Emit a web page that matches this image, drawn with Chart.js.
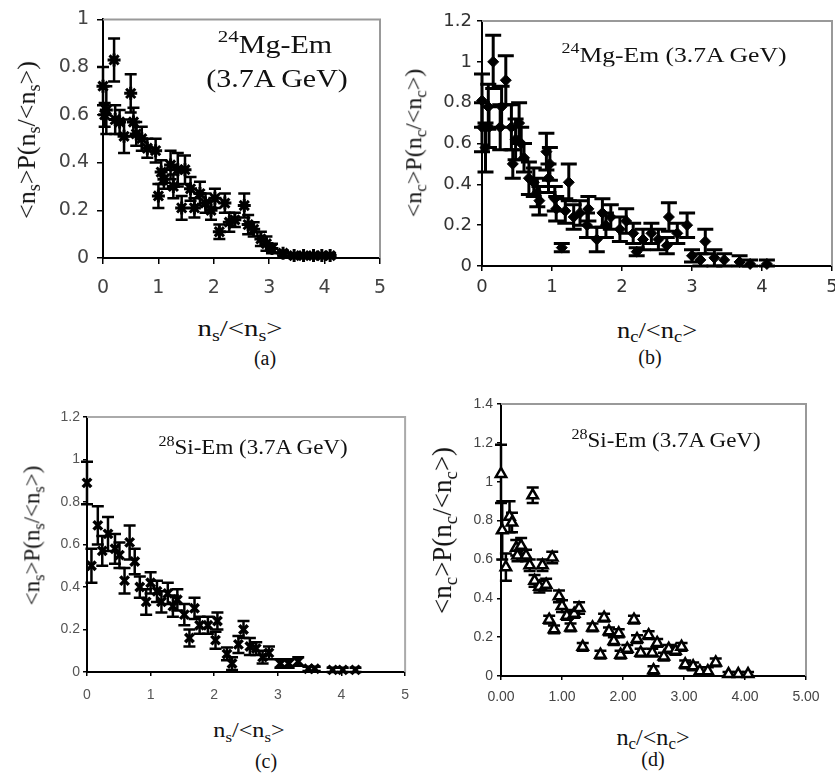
<!DOCTYPE html>
<html>
<head>
<meta charset="utf-8">
<script src="https://cdn.jsdelivr.net/npm/chart.js@4"></script>
<style>
body { margin:0; background:#fff; width:835px; height:773px; overflow:hidden; position:relative; font-family:"Liberation Serif", "Times New Roman", serif; color:#111; }
canvas { position:absolute; }
.t { position:absolute; white-space:nowrap; transform:translate(-50%,-50%); line-height:1; }
.yt { position:absolute; white-space:nowrap; line-height:1; }
sub { font-size:70%; vertical-align:-0.3em; line-height:0; }
sup { font-size:70%; vertical-align:0.6em; line-height:0; }
</style>
</head>
<body>
<canvas id="chartA" width="410" height="300" style="left:0;top:0"></canvas>
<canvas id="chartB" width="440" height="300" style="left:410px;top:0"></canvas>
<canvas id="chartC" width="420" height="320" style="left:0;top:390px"></canvas>
<canvas id="chartD" width="415" height="320" style="left:420px;top:390px"></canvas>

<div class="t" style="left:275px;top:44px;font-size:25px;transform:translate(-50%,-50%) scaleX(1.2)"><sup>24</sup>Mg-Em</div>
<div class="t" style="left:277px;top:78px;font-size:25px;transform:translate(-50%,-50%) scaleX(1.2)">(3.7A GeV)</div>
<div class="t" style="left:674px;top:55px;font-size:21px;transform:translate(-50%,-50%) scaleX(1.22)"><sup>24</sup>Mg-Em (3.7A GeV)</div>
<div class="t" style="left:253px;top:447px;font-size:20px;transform:translate(-50%,-50%) scaleX(1.15)"><sup>28</sup>Si-Em (3.7A GeV)</div>
<div class="t" style="left:666px;top:440px;font-size:20px;transform:translate(-50%,-50%) scaleX(1.15)"><sup>28</sup>Si-Em (3.7A GeV)</div>

<div class="t" style="left:240px;top:328px;font-size:24px;transform:translate(-50%,-50%) scaleX(1.2)">n<sub>s</sub>/&lt;n<sub>s</sub>&gt;</div>
<div class="t" style="left:657px;top:330px;font-size:23px;transform:translate(-50%,-50%) scaleX(1.15)">n<sub>c</sub>/&lt;n<sub>c</sub>&gt;</div>
<div class="t" style="left:249px;top:730px;font-size:22px;transform:translate(-50%,-50%) scaleX(1.1)">n<sub>s</sub>/&lt;n<sub>s</sub>&gt;</div>
<div class="t" style="left:653px;top:737px;font-size:23px;transform:translate(-50%,-50%) scaleX(1.05)">n<sub>c</sub>/&lt;n<sub>c</sub>&gt;</div>

<div class="yt" id="ytA" style="font-size:26px">&lt;n<sub>s</sub>&gt;P(n<sub>s</sub>/&lt;n<sub>s</sub>&gt;)</div>
<div class="yt" id="ytB" style="font-size:24px">&lt;n<sub>c</sub>&gt;P(n<sub>c</sub>/&lt;n<sub>c</sub>&gt;)</div>
<div class="yt" id="ytC" style="font-size:23px">&lt;n<sub>s</sub>&gt;P(n<sub>s</sub>/&lt;n<sub>s</sub>&gt;)</div>
<div class="yt" id="ytD" style="font-size:27px">&lt;n<sub>c</sub>&gt;P(n<sub>c</sub>/&lt;n<sub>c</sub>&gt;)</div>

<div class="t" style="left:265px;top:358px;font-size:20px">(a)</div>
<div class="t" style="left:650px;top:357px;font-size:20px">(b)</div>
<div class="t" style="left:266px;top:761px;font-size:20px">(c)</div>
<div class="t" style="left:653px;top:759px;font-size:20px">(d)</div>

<script>
// (a) 24Mg-Em, shower particles
const aX = [0.00, 0.03, 0.06, 0.20, 0.22, 0.30, 0.38, 0.50, 0.55, 0.60, 0.70, 0.80, 0.95, 1.00, 1.05, 1.10, 1.22, 1.27, 1.35, 1.42, 1.48, 1.58, 1.65, 1.75, 1.85, 1.95, 2.02, 2.10, 2.20, 2.28, 2.38, 2.55, 2.62, 2.72, 2.85, 2.95, 3.05, 3.25, 3.45, 3.62, 3.80, 3.95, 4.10];
const aY = [0.72, 0.60, 0.62, 0.83, 0.58, 0.57, 0.51, 0.69, 0.57, 0.52, 0.50, 0.46, 0.45, 0.26, 0.36, 0.33, 0.39, 0.30, 0.37, 0.21, 0.37, 0.29, 0.21, 0.27, 0.23, 0.20, 0.25, 0.11, 0.23, 0.15, 0.16, 0.22, 0.14, 0.12, 0.08, 0.06, 0.04, 0.02, 0.01, 0.01, 0.01, 0.01, 0.01];
const aErr = [0.08, 0.05, 0.10, 0.09, 0.06, 0.05, 0.07, 0.08, 0.06, 0.05, 0.05, 0.04, 0.05, 0.05, 0.05, 0.04, 0.06, 0.05, 0.07, 0.05, 0.06, 0.05, 0.04, 0.05, 0.04, 0.04, 0.04, 0.03, 0.04, 0.04, 0.03, 0.05, 0.04, 0.03, 0.03, 0.03, 0.02, 0.01, 0.01, 0.01, 0.01, 0.01, 0.01];

// (b) 24Mg-Em, compound particles
const bX = [0.00, 0.00, 0.05, 0.09, 0.10, 0.16, 0.26, 0.28, 0.34, 0.42, 0.44, 0.48, 0.53, 0.56, 0.60, 0.67, 0.74, 0.79, 0.82, 0.92, 0.95, 0.97, 1.04, 1.06, 1.14, 1.19, 1.24, 1.31, 1.40, 1.50, 1.52, 1.64, 1.72, 1.77, 1.84, 1.97, 2.06, 2.16, 2.21, 2.30, 2.42, 2.52, 2.64, 2.67, 2.79, 2.93, 3.00, 3.12, 3.19, 3.32, 3.46, 3.68, 3.83, 4.07];
const bY = [0.81, 0.68, 0.58, 0.78, 0.68, 1.00, 0.68, 0.78, 0.91, 0.68, 0.50, 0.62, 0.70, 0.60, 0.53, 0.43, 0.41, 0.36, 0.32, 0.56, 0.43, 0.50, 0.33, 0.28, 0.09, 0.27, 0.41, 0.24, 0.26, 0.20, 0.28, 0.13, 0.26, 0.20, 0.24, 0.18, 0.22, 0.16, 0.07, 0.13, 0.16, 0.13, 0.10, 0.24, 0.16, 0.20, 0.05, 0.03, 0.12, 0.04, 0.03, 0.02, 0.01, 0.01];
const bErr = [0.13, 0.12, 0.12, 0.11, 0.10, 0.13, 0.11, 0.10, 0.12, 0.11, 0.07, 0.10, 0.10, 0.08, 0.07, 0.08, 0.07, 0.07, 0.07, 0.09, 0.07, 0.08, 0.06, 0.06, 0.02, 0.06, 0.09, 0.06, 0.06, 0.06, 0.06, 0.06, 0.07, 0.06, 0.06, 0.06, 0.06, 0.05, 0.02, 0.05, 0.05, 0.05, 0.04, 0.07, 0.05, 0.06, 0.03, 0.03, 0.06, 0.04, 0.03, 0.03, 0.02, 0.02];

// (c) 28Si-Em, shower particles
const cX = [0.00, 0.07, 0.17, 0.24, 0.33, 0.44, 0.51, 0.59, 0.67, 0.75, 0.83, 0.93, 1.00, 1.10, 1.17, 1.27, 1.35, 1.42, 1.53, 1.61, 1.69, 1.77, 1.90, 2.02, 2.05, 2.20, 2.28, 2.38, 2.46, 2.56, 2.66, 2.76, 2.86, 3.04, 3.17, 3.32, 3.48, 3.58, 3.86, 4.02, 4.22];
const cY = [0.89, 0.50, 0.69, 0.57, 0.65, 0.58, 0.55, 0.43, 0.61, 0.52, 0.40, 0.33, 0.42, 0.38, 0.33, 0.37, 0.31, 0.34, 0.27, 0.16, 0.30, 0.22, 0.22, 0.15, 0.24, 0.085, 0.04, 0.13, 0.20, 0.12, 0.11, 0.07, 0.09, 0.04, 0.04, 0.05, 0.015, 0.015, 0.01, 0.01, 0.01];
const cErr = [0.10, 0.08, 0.09, 0.07, 0.08, 0.07, 0.06, 0.06, 0.08, 0.06, 0.05, 0.06, 0.05, 0.05, 0.05, 0.05, 0.05, 0.05, 0.05, 0.04, 0.05, 0.04, 0.04, 0.04, 0.04, 0.03, 0.03, 0.04, 0.04, 0.04, 0.03, 0.03, 0.03, 0.02, 0.02, 0.02, 0.01, 0.01, 0.01, 0.01, 0.01];

// (d) 28Si-Em, compound particles
const dX = [0.00, 0.02, 0.08, 0.14, 0.18, 0.25, 0.27, 0.33, 0.41, 0.47, 0.52, 0.55, 0.63, 0.68, 0.74, 0.79, 0.84, 0.87, 0.95, 1.00, 1.08, 1.14, 1.20, 1.28, 1.34, 1.50, 1.63, 1.69, 1.77, 1.85, 1.93, 1.96, 2.07, 2.18, 2.23, 2.29, 2.42, 2.48, 2.50, 2.56, 2.67, 2.75, 2.86, 2.96, 3.02, 3.15, 3.26, 3.39, 3.52, 3.73, 3.89, 4.05];
const dY = [1.04, 0.75, 0.56, 0.82, 0.79, 0.66, 0.62, 0.67, 0.62, 0.57, 0.93, 0.49, 0.46, 0.57, 0.47, 0.29, 0.61, 0.24, 0.41, 0.36, 0.31, 0.25, 0.32, 0.35, 0.15, 0.25, 0.11, 0.30, 0.23, 0.18, 0.22, 0.11, 0.14, 0.29, 0.19, 0.12, 0.21, 0.12, 0.03, 0.17, 0.10, 0.14, 0.13, 0.15, 0.06, 0.05, 0.025, 0.025, 0.07, 0.01, 0.01, 0.01];
const dErr = [0.15, 0.15, 0.07, 0.08, 0.05, 0.04, 0.03, 0.04, 0.03, 0.03, 0.04, 0.03, 0.03, 0.03, 0.03, 0.02, 0.03, 0.02, 0.03, 0.03, 0.02, 0.02, 0.02, 0.03, 0.02, 0.02, 0.02, 0.02, 0.02, 0.02, 0.02, 0.02, 0.02, 0.02, 0.02, 0.02, 0.02, 0.02, 0.02, 0.02, 0.02, 0.02, 0.02, 0.02, 0.02, 0.02, 0.02, 0.02, 0.02, 0.01, 0.01, 0.01];

const xTicks = [0, 1, 2, 3, 4, 5];

// vertical error bars, drawn under the markers
const errorBars = {
    id: 'errorBars',
    beforeDatasetsDraw(chart, args, opts) {
        const ctx = chart.ctx;
        const xs = chart.scales.x, ys = chart.scales.y;
        ctx.save();
        ctx.strokeStyle = '#000';
        ctx.lineWidth = opts.width;
        chart.data.datasets.forEach(ds => {
            ds.data.forEach((p, i) => {
                const e = ds.errors[i];
                if (!e) return;
                const px = xs.getPixelForValue(p.x);
                const top = ys.getPixelForValue(p.y + e);
                const bot = ys.getPixelForValue(Math.max(p.y - e, 0));
                ctx.beginPath();
                ctx.moveTo(px, top); ctx.lineTo(px, bot);
                ctx.moveTo(px - opts.cap, top); ctx.lineTo(px + opts.cap, top);
                ctx.moveTo(px - opts.cap, bot); ctx.lineTo(px + opts.cap, bot);
                ctx.stroke();
            });
        });
        ctx.restore();
    }
};

// gray top / right frame of the plot area
const frame = {
    id: 'frame',
    afterDraw(chart, args, opts) {
        const a = chart.chartArea, ctx = chart.ctx;
        ctx.save();
        ctx.strokeStyle = opts.color;
        ctx.lineWidth = 2;
        ctx.beginPath();
        ctx.moveTo(a.left, a.top);
        ctx.lineTo(a.right, a.top);
        ctx.lineTo(a.right, a.bottom);
        ctx.stroke();
        ctx.restore();
    }
};

function makePanel(id, p) {
    const pts = p.xs.map((x, i) => ({ x: x, y: p.ys[i] }));
    return new Chart(document.getElementById(id), {
        type: 'scatter',
        data: {
            datasets: [{
                data: pts,
                errors: p.errs,
                pointStyle: p.style,
                pointRadius: p.radius,
                borderWidth: p.border,
                borderColor: '#000',
                backgroundColor: p.fill,
                clip: false
            }]
        },
        options: {
            responsive: false,
            animation: false,
            events: [],
            layout: { padding: { left: 0, top: p.top, right: p.right, bottom: 0 } },
            plugins: {
                legend: { display: false },
                tooltip: { enabled: false },
                errorBars: { cap: p.cap, width: p.barWidth },
                frame: { color: p.frameColor }
            },
            scales: {
                x: {
                    type: 'linear',
                    min: 0, max: 5,
                    afterFit: s => { s.height = p.xHeight; },
                    afterBuildTicks: s => { s.ticks = xTicks.map(v => ({ value: v })); },
                    ticks: {
                        padding: p.xPad,
                        color: p.tickColor,
                        font: { family: p.font, size: p.fontSize },
                        callback: v => p.xFmt ? v.toFixed(2) : String(v)
                    },
                    grid: { drawOnChartArea: false, drawTicks: true, tickLength: p.tick, color: '#000', lineWidth: 1.5 },
                    border: { color: '#000', width: 2 }
                },
                y: {
                    type: 'linear',
                    min: 0, max: p.yMax,
                    afterFit: s => { s.width = p.yWidth; },
                    afterBuildTicks: s => { s.ticks = p.yTicks.map(v => ({ value: v })); },
                    ticks: {
                        padding: p.yPad,
                        color: p.tickColor,
                        font: { family: p.font, size: p.fontSize },
                        callback: v => String(+v.toFixed(1))
                    },
                    grid: { drawOnChartArea: false, drawTicks: true, tickLength: p.tick, color: '#000', lineWidth: 1.5 },
                    border: { color: '#000', width: 2 }
                }
            }
        },
        plugins: [errorBars, frame]
    });
}

makePanel('chartA', {
    xs: aX, ys: aY, errs: aErr,
    style: 'star', radius: 6.5, border: 3, fill: '#000', cap: 6, barWidth: 2.5,
    top: 13, right: 30, xHeight: 42, yWidth: 103, yMax: 1, yTicks: [0, 0.2, 0.4, 0.6, 0.8, 1],
    xPad: 13, yPad: 8, tick: 6, font: '"DejaVu Sans", sans-serif', fontSize: 19, tickColor: '#444', frameColor: '#999'
});

makePanel('chartB', {
    xs: bX, ys: bY, errs: bErr,
    style: 'rectRot', radius: 5.5, border: 1, fill: '#000', cap: 8, barWidth: 3,
    top: 21, right: 18, xHeight: 34, yWidth: 72, yMax: 1.2, yTicks: [0, 0.2, 0.4, 0.6, 0.8, 1, 1.2],
    xPad: 6, yPad: 5, tick: 5, font: '"DejaVu Sans", sans-serif', fontSize: 18, tickColor: '#333', frameColor: '#999'
});

makePanel('chartC', {
    xs: cX, ys: cY, errs: cErr,
    style: 'crossRot', radius: 6, border: 3.5, fill: '#000', cap: 6, barWidth: 2.5,
    top: 27, right: 8, xHeight: 38, yWidth: 87, yMax: 1.2, yTicks: [0, 0.2, 0.4, 0.6, 0.8, 1, 1.2],
    xPad: 11, yPad: 3, tick: 4, font: '"Liberation Sans", Arial, sans-serif', fontSize: 14, tickColor: '#555', frameColor: '#aaa'
});

makePanel('chartD', {
    xs: dX, ys: dY, errs: dErr, xFmt: true,
    style: 'triangle', radius: 6, border: 2.5, fill: '#fff', cap: 6, barWidth: 2.5,
    top: 14, right: 29, xHeight: 34, yWidth: 81, yMax: 1.4, yTicks: [0, 0.2, 0.4, 0.6, 0.8, 1, 1.2, 1.4],
    xPad: 9, yPad: 4, tick: 4, font: '"Liberation Sans", Arial, sans-serif', fontSize: 14, tickColor: '#444', frameColor: '#999'
});

// rotated y titles, centred on the given point
function placeY(id, cx, cy) {
    const el = document.getElementById(id);
    const w = el.offsetWidth, h = el.offsetHeight;
    el.style.left = (cx - w / 2) + 'px';
    el.style.top = (cy - h / 2) + 'px';
    el.style.transform = 'rotate(-90deg)';
}
placeY('ytA', 27, 140);
placeY('ytB', 413, 143);
placeY('ytC', 32, 535);
placeY('ytD', 442, 530);
</script>
</body>
</html>
